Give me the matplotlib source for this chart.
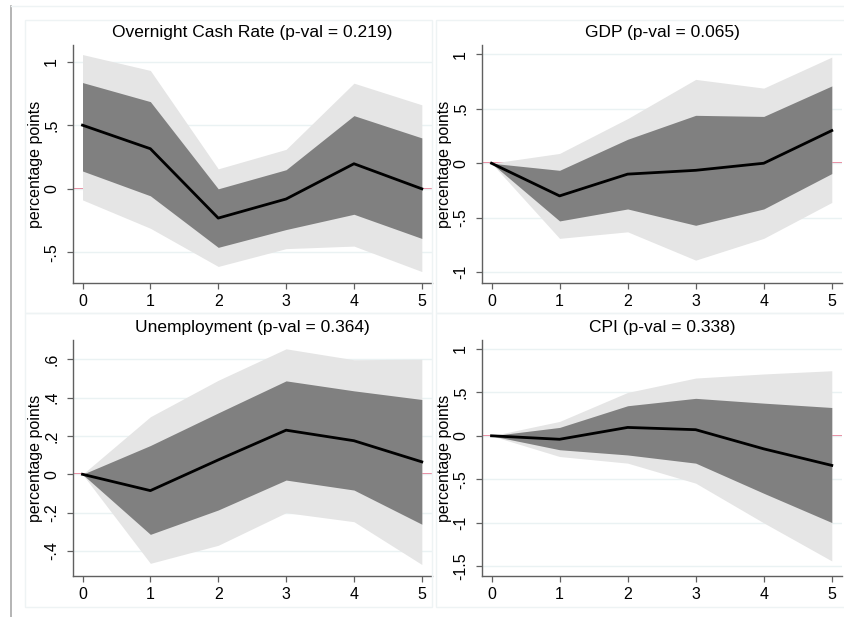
import numpy as np
import matplotlib
matplotlib.use("Agg")
import matplotlib.pyplot as plt
from matplotlib.patches import Rectangle

plt.rcParams['font.family'] = ['Liberation Sans', 'DejaVu Sans']

horizon = [0, 1, 2, 3, 4, 5]

titles = ['Overnight Cash Rate (p-val = 0.219)', 'GDP (p-val = 0.065)',
          'Unemployment (p-val = 0.364)', 'CPI (p-val = 0.338)']

# point estimates
cash_irf = [0.50, 0.315, -0.23, -0.08, 0.197, 0.0]
gdp_irf = [0.0, -0.30, -0.10, -0.065, 0.0, 0.30]
unemp_irf = [0.0, -0.085, 0.075, 0.23, 0.175, 0.065]
cpi_irf = [0.0, -0.04, 0.096, 0.07, -0.15, -0.34]

# inner band (dark)
cash_lo68 = [0.14, -0.055, -0.46, -0.32, -0.20, -0.39]
cash_hi68 = [0.835, 0.685, 0.0, 0.15, 0.575, 0.40]
gdp_lo68 = [0.0, -0.53, -0.42, -0.57, -0.42, -0.095]
gdp_hi68 = [0.0, -0.065, 0.22, 0.44, 0.43, 0.71]
unemp_lo68 = [0.0, -0.313, -0.186, -0.03, -0.082, -0.26]
unemp_hi68 = [0.0, 0.15, 0.32, 0.487, 0.435, 0.39]
cpi_lo68 = [0.0, -0.16, -0.22, -0.314, -0.66, -0.996]
cpi_hi68 = [0.0, 0.096, 0.345, 0.43, 0.375, 0.325]

# outer band (light)
cash_lo95 = [-0.087, -0.31, -0.61, -0.47, -0.45, -0.65]
cash_hi95 = [1.055, 0.93, 0.157, 0.31, 0.83, 0.66]
gdp_lo95 = [0.0, -0.69, -0.63, -0.89, -0.69, -0.36]
gdp_hi95 = [0.0, 0.09, 0.41, 0.77, 0.69, 0.975]
unemp_lo95 = [0.0, -0.464, -0.37, -0.20, -0.247, -0.47]
unemp_hi95 = [0.0, 0.30, 0.49, 0.654, 0.597, 0.60]
cpi_lo95 = [0.0, -0.238, -0.314, -0.544, -1.0, -1.437]
cpi_hi95 = [0.0, 0.165, 0.498, 0.663, 0.71, 0.747]

irfs = [cash_irf, gdp_irf, unemp_irf, cpi_irf]
lo68 = [cash_lo68, gdp_lo68, unemp_lo68, cpi_lo68]
hi68 = [cash_hi68, gdp_hi68, unemp_hi68, cpi_hi68]
lo95 = [cash_lo95, gdp_lo95, unemp_lo95, cpi_lo95]
hi95 = [cash_hi95, gdp_hi95, unemp_hi95, cpi_hi95]

yticks = [[-0.5, 0, 0.5, 1], [-1, -0.5, 0, 0.5, 1],
          [-0.4, -0.2, 0, 0.2, 0.4, 0.6], [-1.5, -1, -0.5, 0, 0.5, 1]]
ylims = [(-0.74, 1.13), (-1.10, 1.086), (-0.53, 0.70), (-1.61, 1.10)]


def stata_label(v):
    s = ('%g' % v)
    s = s.replace('0.', '.')
    return s


W, H = 845, 617
fig = plt.figure(figsize=(8.45, 6.17), dpi=100)

# outer frame and panel boxes
fig.add_artist(plt.Line2D([11 / W, 11 / W], [0, 1 - 6 / H], transform=fig.transFigure,
                          color='#a8a8a8', lw=1.2))
fig.add_artist(plt.Line2D([11 / W, 1], [1 - 6 / H, 1 - 6 / H], transform=fig.transFigure,
                          color='#eef3f4', lw=1.0))
boxes = [(25, 20, 432, 313), (436, 20, 845, 313), (25, 313, 432, 607), (436, 313, 845, 607)]
for x0, y0, x1, y1 in boxes:
    fig.add_artist(Rectangle((x0 / W, 1 - y1 / H), (x1 - x0) / W, (y1 - y0) / H,
                             transform=fig.transFigure, fill=False,
                             edgecolor='#eef3f4', lw=1.0))

# axes rectangles in pixels: left, top, right, bottom
rects = [(73, 45, 432, 283), (482, 45, 842, 283), (73, 340, 432, 576), (482, 340, 842, 576)]

for i in range(4):
    l, t, r, b = rects[i]
    ax = fig.add_axes([l / W, 1 - b / H, (r - l) / W, (b - t) / H])
    ax.axhline(0, color='#e8708a', lw=1.3, zorder=0)
    for yv in yticks[i]:
        ax.axhline(yv, color='#eaf2f3', lw=1.0, zorder=0)
    ax.fill_between(horizon, lo95[i], hi95[i], color='#e5e5e5', lw=0, zorder=1)
    ax.fill_between(horizon, lo68[i], hi68[i], color='#808080', lw=0, zorder=2)
    ax.plot(horizon, irfs[i], color='black', lw=2.0, zorder=3)

    ax.set_xlim(-0.14, 5.15)
    ax.set_ylim(*ylims[i])
    ax.set_xticks(horizon)
    ax.set_yticks(yticks[i])
    ax.set_yticklabels([stata_label(v) for v in yticks[i]], rotation=90, va='center')
    ax.tick_params(direction='out', length=4, width=0.9, color='#606060',
                   labelsize=11.5)
    ax.tick_params(axis='y', pad=6)
    ax.tick_params(axis='x', pad=4)
    for side in ['top', 'right']:
        ax.spines[side].set_visible(False)
    for side in ['left', 'bottom']:
        ax.spines[side].set_color('#606060')
        ax.spines[side].set_linewidth(1.0)
    ax.set_ylabel('percentage points', fontsize=11.5, labelpad=1)
    ax.set_title(titles[i], fontsize=12.5, pad=6)

fig.savefig('out.png', dpi=100)
